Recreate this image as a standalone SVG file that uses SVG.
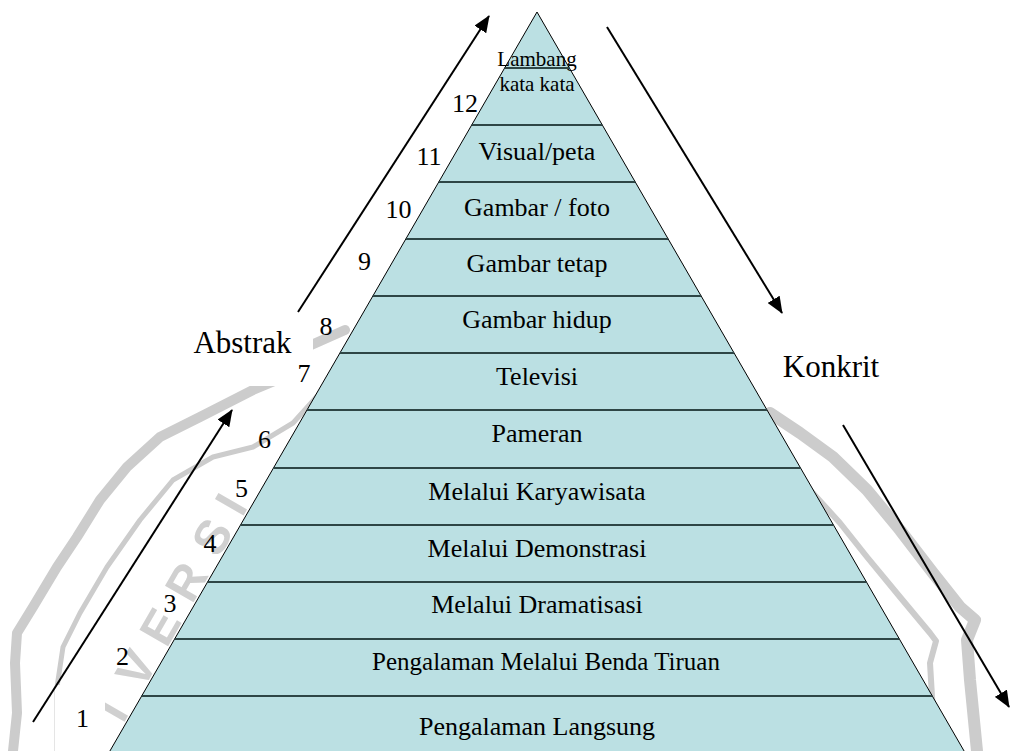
<svg xmlns="http://www.w3.org/2000/svg" width="1011" height="751" viewBox="0 0 1011 751">
<style>
.row{fill:#bbe0e3;stroke:none}
.lbl{font-family:"Liberation Serif","Times New Roman",serif;font-size:26px;fill:#000;text-anchor:middle}
.num{font-family:"Liberation Serif","Times New Roman",serif;font-size:26px;fill:#000;text-anchor:middle}
.side{font-family:"Liberation Serif","Times New Roman",serif;font-size:31px;fill:#000;text-anchor:middle}
.sep{stroke:#2e4646;stroke-width:2;fill:none}
.edge{stroke:#000;stroke-width:1;fill:none}
.arr{stroke:#000;stroke-width:2;fill:none;marker-end:url(#ah)}
.wm{fill:none;stroke:#cccccc;stroke-linejoin:round;stroke-linecap:round}
.wmt{font-family:"Liberation Sans",Arial,sans-serif;font-weight:bold;font-size:48px;fill:#d0d0d0}
</style>
<defs>
<marker id="ah" markerUnits="userSpaceOnUse" markerWidth="18" markerHeight="14" refX="16" refY="7" orient="auto">
<path d="M0,0 L17,7 L0,14 z" fill="#000"/>
</marker>
</defs>
<rect width="1011" height="751" fill="#fff"/>
<g id="watermark">
<polyline class="wm" stroke-width="10" points="345,330 300,350 277,380 253,390 200,417 160,437 127,467 100,500 77,537 57,567 33,607 17,633 15,663 17,713 13,751"/>
<polyline class="wm" stroke-width="5" points="330,382 293,423 253,447 213,457 173,480 140,520 107,567 80,613 63,647 60,667 57,687 57,751"/>
<polyline class="wm" stroke-width="12" points="770,413 800,433 833,457 867,490 900,530 933,573 960,607 975,620 967,640 970,680 977,751"/>
<polyline class="wm" stroke-width="6" points="790,465 810,490 840,523 867,557 900,597 930,633 936,641 930,663 933,713 937,751"/>
<text class="wmt" transform="translate(99,766) rotate(-60)" x="48 87 135 186 239 286" y="0">IVERSI</text>
</g>
<rect x="170" y="312" width="143" height="74" fill="#fff"/>
<rect x="55" y="685" width="50" height="66" fill="#fff"/>
<g id="pyramid">
<g id="row12">
<polygon class="row" points="537,12 471.7,125 602.3,125"/>
<text class="lbl" x="537" y="66" style="font-size:21px">Lambang</text>
<text class="lbl" x="537" y="91" style="font-size:21px">kata kata</text>
</g>
<g id="row11"><polygon class="row" points="471.7,125 602.3,125 635.3,182 438.7,182"/><text class="lbl" x="537" y="160">Visual/peta</text></g>
<g id="row10"><polygon class="row" points="438.7,182 635.3,182 668.2,239 405.8,239"/><text class="lbl" x="537" y="216">Gambar / foto</text></g>
<g id="row9"><polygon class="row" points="405.8,239 668.2,239 701.2,296 372.8,296"/><text class="lbl" x="537" y="272">Gambar tetap</text></g>
<g id="row8"><polygon class="row" points="372.8,296 701.2,296 734.1,353 339.9,353"/><text class="lbl" x="537" y="328">Gambar hidup</text></g>
<g id="row7"><polygon class="row" points="339.9,353 734.1,353 767,410 307,410"/><text class="lbl" x="537" y="385">Televisi</text></g>
<g id="row6"><polygon class="row" points="307,410 767,410 800.6,468 273.4,468"/><text class="lbl" x="537" y="442">Pameran</text></g>
<g id="row5"><polygon class="row" points="273.4,468 800.6,468 833.5,525 240.5,525"/><text class="lbl" x="537" y="500">Melalui Karyawisata</text></g>
<g id="row4"><polygon class="row" points="240.5,525 833.5,525 866.5,582 207.5,582"/><text class="lbl" x="537" y="557">Melalui Demonstrasi</text></g>
<g id="row3"><polygon class="row" points="207.5,582 866.5,582 899.4,639 174.6,639"/><text class="lbl" x="537" y="613">Melalui Dramatisasi</text></g>
<g id="row2"><polygon class="row" points="174.6,639 899.4,639 932.4,696 141.6,696"/><text class="lbl" x="546" y="670" style="font-size:25px">Pengalaman Melalui Benda Tiruan</text></g>
<g id="row1"><polygon class="row" points="141.6,696 932.4,696 964.1,751 109.9,751"/><text class="lbl" x="537" y="735">Pengalaman Langsung</text></g>
<g id="outline">
<polyline class="edge" points="109.9,751 537,12 964.1,751"/>
<line class="sep" x1="504.6" y1="68" x2="569.4" y2="68"/>
<line class="sep" x1="471.7" y1="125" x2="602.3" y2="125"/>
<line class="sep" x1="438.7" y1="182" x2="635.3" y2="182"/>
<line class="sep" x1="405.8" y1="239" x2="668.2" y2="239"/>
<line class="sep" x1="372.8" y1="296" x2="701.2" y2="296"/>
<line class="sep" x1="339.9" y1="353" x2="734.1" y2="353"/>
<line class="sep" x1="307" y1="410" x2="767" y2="410"/>
<line class="sep" x1="273.4" y1="468" x2="800.6" y2="468"/>
<line class="sep" x1="240.5" y1="525" x2="833.5" y2="525"/>
<line class="sep" x1="207.5" y1="582" x2="866.5" y2="582"/>
<line class="sep" x1="174.6" y1="639" x2="899.4" y2="639"/>
<line class="sep" x1="141.6" y1="696" x2="932.4" y2="696"/>
</g>
</g>
<g id="numbers">
<text class="num" x="465" y="112">12</text>
<text class="num" x="429" y="165">11</text>
<text class="num" x="398.5" y="218">10</text>
<text class="num" x="364.5" y="270">9</text>
<text class="num" x="326" y="335">8</text>
<text class="num" x="304" y="382">7</text>
<text class="num" x="264.5" y="448">6</text>
<text class="num" x="241.5" y="497">5</text>
<text class="num" x="210" y="552">4</text>
<text class="num" x="170" y="612">3</text>
<text class="num" x="122.5" y="665">2</text>
<text class="num" x="82.5" y="727">1</text>
</g>
<g id="label-abstrak"><text class="side" x="242.5" y="353">Abstrak</text></g>
<g id="label-konkrit"><text class="side" x="831" y="377">Konkrit</text></g>
<g id="connectors">
<line class="arr" x1="298" y1="312" x2="489" y2="16"/>
<line class="arr" x1="607" y1="27" x2="782" y2="313"/>
<line class="arr" x1="33" y1="722" x2="232" y2="410"/>
<line class="arr" x1="843" y1="425" x2="1009" y2="707"/>
</g>
</svg>
